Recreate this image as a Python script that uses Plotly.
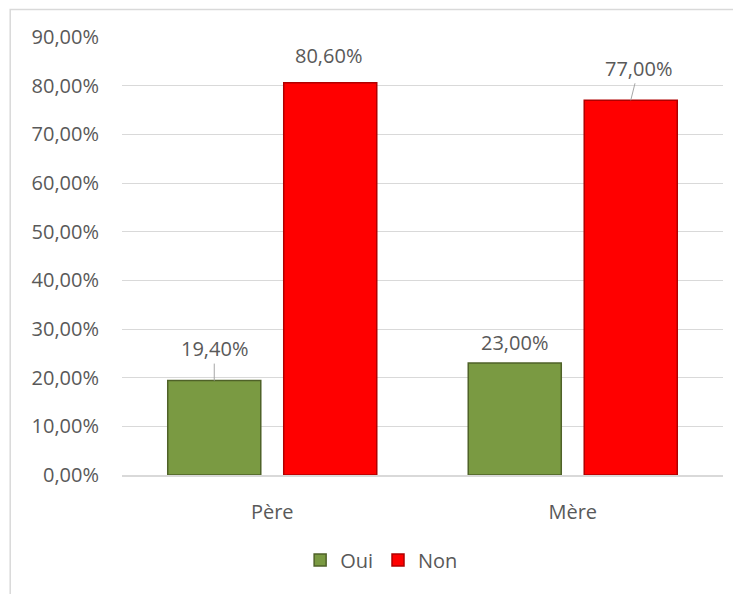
import plotly.graph_objects as go

categories = ["Père", "Mère"]
oui = [0.194, 0.23]
non = [0.806, 0.77]
series_names = ["Oui", "Non"]
y_ticks = [0, 0.1, 0.2, 0.3, 0.4, 0.5, 0.6, 0.7, 0.8, 0.9]

FONT = "Open Sans"
TXT = "#595959"
GREEN = "#7A9A42"
RED = "#FF0000"
BARGAP = 0.228
GROUPGAP = 0.198

fig = go.Figure()
fig.add_trace(go.Bar(name=series_names[0], x=categories, y=oui,
                     marker=dict(color=GREEN, line=dict(color="#4F6228", width=1.5))))
fig.add_trace(go.Bar(name=series_names[1], x=categories, y=non,
                     marker=dict(color=RED, line=dict(color="#B00000", width=1.5))))

off = (1 - BARGAP) / 4
# label placement: (dx px, dy px, leader line)
label_style = [
    [(0, -32, True), (-2, -27, False)],
    [(0, -21, False), (8, -32, True)],
]
annotations = []
for ci, cat in enumerate(categories):
    for si, vals in enumerate([oui, non]):
        v = vals[ci]
        xpos = ci + (-off if si == 0 else off)
        dx, dy, leader = label_style[ci][si]
        txt = f"{v*100:.2f}%".replace(".", ",")
        if leader:
            annotations.append(dict(x=xpos, y=v, xref="x", yref="y", text=txt,
                                    showarrow=True, arrowhead=0, arrowwidth=1,
                                    arrowcolor="#A6A6A6", ax=dx, ay=dy, standoff=0,
                                    font=dict(family=FONT, size=20, color=TXT)))
        else:
            annotations.append(dict(x=xpos, y=v, xref="x", yref="y", text=txt,
                                    showarrow=False, xshift=dx, yshift=-dy,
                                    font=dict(family=FONT, size=20, color=TXT)))

fig.update_layout(
    width=733, height=586,
    margin=dict(l=114, r=18, t=29, b=119),
    paper_bgcolor="white", plot_bgcolor="white",
    barmode="group", bargap=BARGAP, bargroupgap=GROUPGAP,
    separators=", ",
    font=dict(family=FONT, size=20, color=TXT),
    showlegend=True,
    legend=dict(orientation="h", x=0.432, xanchor="center", y=-0.194, yanchor="middle",
                font=dict(family=FONT, size=20, color=TXT), itemwidth=30,
                traceorder="normal"),
    annotations=annotations,
    shapes=[dict(type="rect", xref="paper", yref="paper", x0=-0.186, x1=1.3,
                 y0=-0.6, y1=1.063, line=dict(color="#D9D9D9", width=1.5),
                 fillcolor="rgba(0,0,0,0)", layer="below")],
)
fig.update_yaxes(range=[0, 0.9], tickvals=y_ticks, tickformat=".2%",
                 showgrid=True, gridcolor="#D9D9D9", gridwidth=1,
                 zeroline=False, showline=False, ticks="", ticklabelstandoff=22,
                 tickfont=dict(family=FONT, size=20, color=TXT))
fig.update_xaxes(showline=True, linecolor="#D9D9D9", linewidth=2, ticks="",
                 ticklabelstandoff=18, tickfont=dict(family=FONT, size=20, color=TXT))

fig.write_html("out.html")
